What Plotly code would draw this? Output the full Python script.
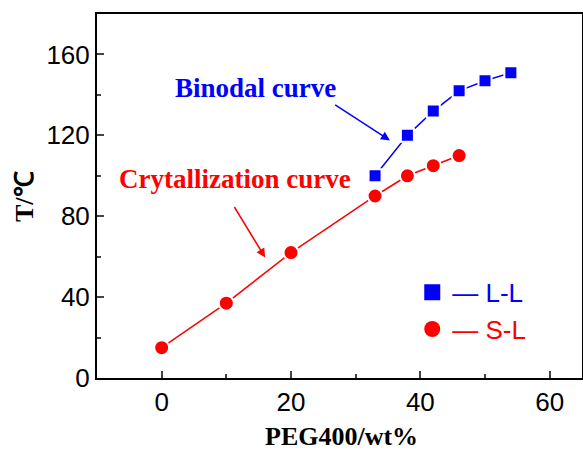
import plotly.graph_objects as go

ll_x = [33, 38, 42, 46, 50, 54]
ll_y = [100, 120, 132, 142, 147, 151]
sl_x = [0, 10, 20, 33, 38, 42, 46]
sl_y = [15, 37, 62, 90, 100, 105, 110]

x_ticks = [0, 20, 40, 60]
y_ticks = [0, 40, 80, 120, 160]

BLUE = "#0000FF"
RED = "#FF0000"

fig = go.Figure()
fig.add_trace(go.Scatter(x=ll_x, y=ll_y, mode="lines+markers", showlegend=False,
                         line=dict(color=BLUE, width=1.5),
                         marker=dict(symbol="square", size=13, color=BLUE,
                                     line=dict(color="white", width=2))))
fig.add_trace(go.Scatter(x=sl_x, y=sl_y, mode="lines+markers", showlegend=False,
                         line=dict(color=RED, width=1.5),
                         marker=dict(symbol="circle", size=15, color=RED,
                                     line=dict(color="white", width=2))))
# legend entries
fig.add_trace(go.Scatter(x=[None], y=[None], mode="markers",
                         name="<span style='color:#0000FF'>— L-L</span>",
                         marker=dict(symbol="square", size=19, color=BLUE)))
fig.add_trace(go.Scatter(x=[None], y=[None], mode="markers",
                         name="<span style='color:#FF0000'>— S-L</span>",
                         marker=dict(symbol="circle", size=20, color=RED)))

times = "Liberation Serif"
fig.add_annotation(x=35.3, y=117.5, ax=26.6, ay=135.6, xref="x", yref="y",
                   axref="x", ayref="y", showarrow=True, arrowhead=2,
                   arrowsize=1.2, arrowwidth=1.5, arrowcolor=BLUE, text="")
fig.add_annotation(x=16.0, y=59.6, ax=11.1, ay=85.3, xref="x", yref="y",
                   axref="x", ayref="y", showarrow=True, arrowhead=2,
                   arrowsize=1.2, arrowwidth=1.5, arrowcolor=RED, text="")
fig.add_annotation(x=255, y=88, xref="paper", yref="paper", text="<b>Binodal curve</b>",
                   showarrow=False, xanchor="center", yanchor="middle",
                   font=dict(family=times, size=27, color=BLUE))
fig.add_annotation(x=235, y=179, xref="paper", yref="paper", text="<b>Crytallization curve</b>",
                   showarrow=False, xanchor="center", yanchor="middle",
                   font=dict(family=times, size=27, color=RED))
# axis titles
fig.add_annotation(x=341, y=436, xref="paper", yref="paper", text="<b>PEG400/wt%</b>",
                   showarrow=False, xanchor="center", yanchor="middle", borderpad=0,
                   font=dict(family=times, size=26, color="black"))
fig.add_annotation(x=24, y=197, xref="paper", yref="paper", text="<b>T/℃</b>",
                   showarrow=False, xanchor="center", yanchor="middle", textangle=-90,
                   font=dict(family=times, size=26, color="black"))

L, T, W, H = 97, 14, 485, 364
for a in fig.layout.annotations:
    if a.xref == "paper":
        a.x = (a.x - L) / W
        a.y = 1 - (a.y - T) / H

fig.update_layout(
    width=583, height=453,
    margin=dict(l=L, r=583 - L - W, t=T, b=453 - T - H),
    paper_bgcolor="white", plot_bgcolor="white",
    font=dict(family="Liberation Sans", size=26, color="black"),
    legend=dict(x=0.65, y=0.30, xanchor="left", yanchor="top",
                bgcolor="rgba(0,0,0,0)", font=dict(size=26),
                itemsizing="trace", tracegroupgap=0),
    xaxis=dict(range=[-10, 65], tickvals=x_ticks, ticks="inside", ticklen=7,
               tickwidth=1.5, showline=True, linewidth=2, linecolor="black",
               mirror=True, showgrid=False, zeroline=False, automargin=False,
               minor=dict(dtick=10, ticks="inside", ticklen=4, tickwidth=1.5)),
    yaxis=dict(range=[0, 180], tickvals=y_ticks, ticks="inside", ticklen=7,
               tickwidth=1.5, showline=True, linewidth=2, linecolor="black",
               mirror=True, showgrid=False, zeroline=False, automargin=False,
               minor=dict(dtick=20, ticks="inside", ticklen=4, tickwidth=1.5)),
)
fig.write_html("out.html")
